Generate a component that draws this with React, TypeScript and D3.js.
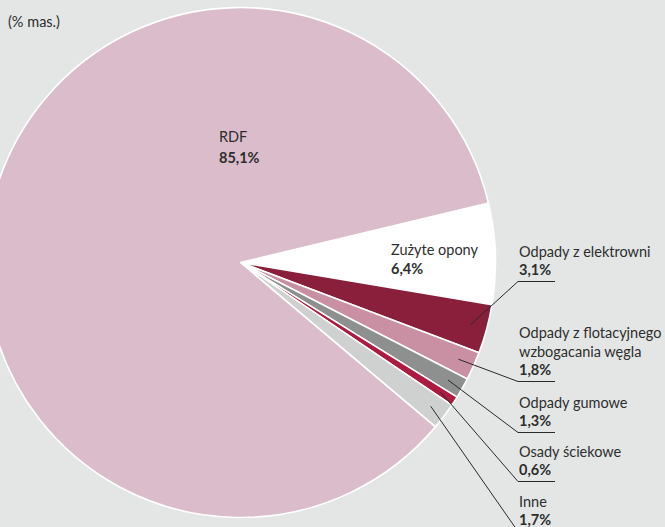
import React from "react";
import * as d3 from "d3";

const categories = [
  "Zużyte opony",
  "Odpady z elektrowni",
  "Odpady z flotacyjnego wzbogacania węgla",
  "Odpady gumowe",
  "Osady ściekowe",
  "Inne",
  "RDF",
];
const values = [6.4, 3.1, 1.8, 1.3, 0.6, 1.7, 85.1];
const labelLines = [
  ["Zużyte opony"],
  ["Odpady z elektrowni"],
  ["Odpady z flotacyjnego", "wzbogacania węgla"],
  ["Odpady gumowe"],
  ["Osady ściekowe"],
  ["Inne"],
  ["RDF"],
];
const colors = ["#ffffff", "#8a1f3b", "#c98fa2", "#8d908f", "#ad1b42", "#cfd1d0", "#dbbccb"];
const unitLabel = "(% mas.)";

const W = 665;
const H = 527;
const cx = 240.5;
const cy = 262.5;
const R = 255;
const FONT = "Lato, 'Open Sans', sans-serif";
const TEXT = "#2e2e2e";

// layout: baseline y of the value line for the callout labels (indices 1..5)
const calloutValueY: Record<number, number> = { 1: 275, 2: 375, 3: 426, 4: 475, 5: 525 };
const calloutX = 519;
const underlineLen = 37;
const lineH = 18.5;

const fmt = (v: number) => v.toFixed(1).replace(".", ",") + "%";

export default function App() {
  const startAngle = (76.5 * Math.PI) / 180;
  const pie = d3
    .pie<number>()
    .sort(null)
    .value((d) => d)
    .startAngle(startAngle)
    .endAngle(startAngle + 2 * Math.PI);
  const arcs = pie(values);
  const arc = d3.arc<d3.PieArcDatum<number>>().innerRadius(0).outerRadius(R);
  const leaderR = R * 0.935;

  return (
    <div style={{ position: "absolute", left: 0, top: 0, width: W, height: H, overflow: "hidden" }}>
      <svg width={W} height={H} style={{ display: "block", background: "#e3e6e5" }}>
        <g transform={`translate(${cx},${cy})`}>
          {arcs.map((a, i) => (
            <path key={i} d={arc(a) || ""} fill={colors[i]} stroke="#ffffff" strokeWidth={1.6} strokeLinejoin="round" />
          ))}
        </g>
        <text x={8} y={27} fontFamily={FONT} fontSize={14.5} fill={TEXT}>
          {unitLabel}
        </text>
        {/* RDF label */}
        <text x={219} y={142} fontFamily={FONT} fontSize={14.5} fill={TEXT}>
          {labelLines[6][0]}
        </text>
        <text x={219} y={163} fontFamily={FONT} fontSize={14.5} fontWeight="bold" fill={TEXT}>
          {fmt(values[6])}
        </text>
        {/* Zużyte opony label */}
        <text x={391} y={255} fontFamily={FONT} fontSize={14.5} fill={TEXT}>
          {labelLines[0][0]}
        </text>
        <text x={391} y={274} fontFamily={FONT} fontSize={14.5} fontWeight="bold" fill={TEXT}>
          {fmt(values[0])}
        </text>
        {[1, 2, 3, 4, 5].map((i) => {
          const a = arcs[i];
          const mid = (a.startAngle + a.endAngle) / 2;
          const px = cx + leaderR * Math.sin(mid);
          const py = cy - leaderR * Math.cos(mid);
          const vy = calloutValueY[i];
          const uy = vy + 6.5;
          const lines = labelLines[i];
          return (
            <g key={i}>
              {lines.map((t, k) => (
                <text
                  key={k}
                  x={calloutX}
                  y={vy - lineH * (lines.length - k)}
                  fontFamily={FONT}
                  fontSize={14.5}
                  fill={TEXT}
                >
                  {t}
                </text>
              ))}
              <text x={calloutX} y={vy} fontFamily={FONT} fontSize={14.5} fontWeight="bold" fill={TEXT}>
                {fmt(values[i])}
              </text>
              <polyline
                points={`${px},${py} ${calloutX - 1},${uy} ${calloutX - 1 + underlineLen},${uy}`}
                fill="none"
                stroke="#2a2a2a"
                strokeWidth={1}
              />
            </g>
          );
        })}
      </svg>
    </div>
  );
}
